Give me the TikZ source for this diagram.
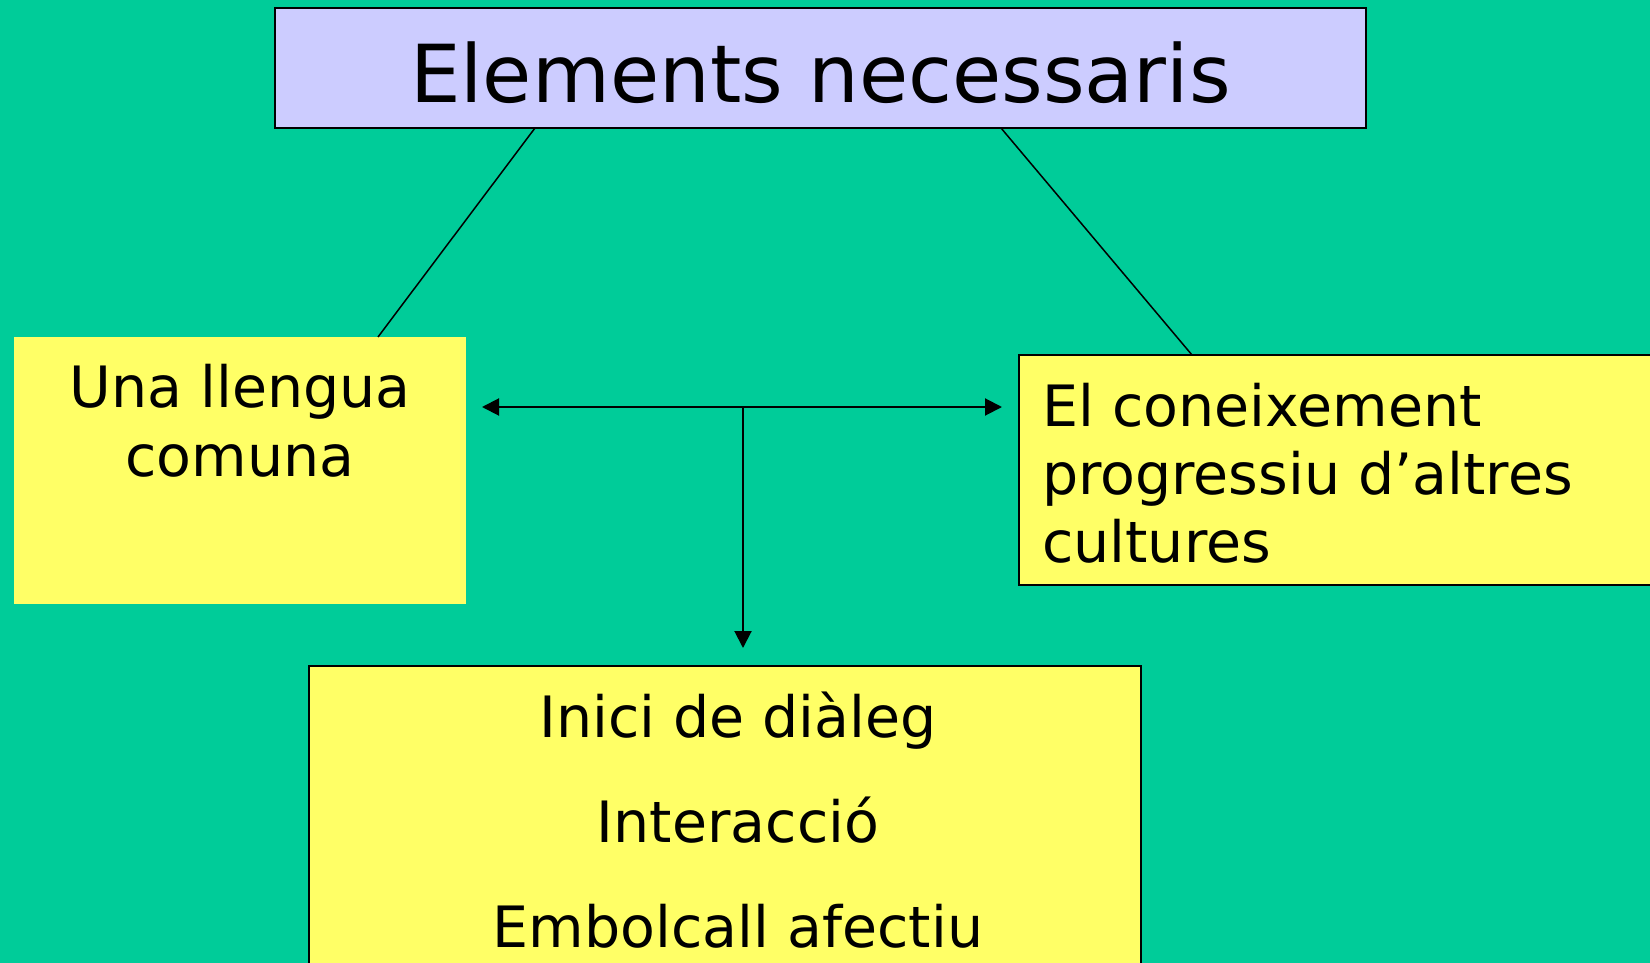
\documentclass[tikz,border=0pt]{standalone}
\usepackage{fontspec}
\setmainfont{DejaVu Sans}
\usetikzlibrary{arrows.meta}
\definecolor{bg}{HTML}{00CC99}
\definecolor{boxyellow}{HTML}{FFFF66}
\definecolor{lavender}{HTML}{CCCCFF}
\begin{document}
\begin{tikzpicture}[x=1pt,y=-1pt,
  box/.style={rectangle, anchor=north west, inner sep=0pt, outer sep=0pt},
  framed/.style={box, draw=black, line width=1.5pt},
  bodytext/.style={inner sep=0pt, text=black},
  thinline/.style={draw=black, line width=1.5pt},
  arr/.style={draw=black, line width=2pt, -{Triangle[length=17pt,width=17pt]}}]
\clip (0,0) rectangle (1650,963);
\fill[bg] (0,0) rectangle (1650,963);
% boxes
\node[framed, fill=lavender, minimum width=1091pt, minimum height=120pt,
      text height=95pt, text depth=25pt, font=\fontsize{80}{96}\selectfont] (title) at (275,8) {Elements necessaris};
\node[box, fill=boxyellow, minimum width=452pt, minimum height=267pt] (llengua) at (14,337) {};
\node[framed, fill=boxyellow, minimum width=650pt, minimum height=230pt] (coneix) at (1019,355) {};
\node[framed, fill=boxyellow, minimum width=832pt, minimum height=400pt] (dialeg) at (309,666) {};
% texts (base anchor = baseline of the last line)
\node[bodytext, anchor=base, align=center, font=\fontsize{57}{69}\selectfont] (llenguatext) at (240,476) {Una llengua\\comuna};
\node[bodytext, anchor=base west, align=left, font=\fontsize{57}{68}\selectfont] (coneixtext) at (1042,562) {El coneixement\\progressiu d’altres\\cultures};
\node[bodytext, anchor=base, align=center, font=\fontsize{57}{105}\selectfont] (dialegtext) at (738,947) {Inici de diàleg\\Interacció\\Embolcall afectiu};
% connectors
\draw[thinline] ([xshift=260pt]title.south west) -- ([xshift=364pt]llengua.north west);
\draw[thinline] ([xshift=726pt]title.south west) -- ([xshift=173pt]coneix.north west);
\coordinate (hub) at (743,407);
\draw[arr] (hub) -- ([xshift=16pt]hub -| llengua.east);
\draw[arr] (hub) -- ([xshift=-17pt]hub -| coneix.west);
\draw[arr] (hub) -- ([yshift=18pt]hub |- dialeg.north);
\end{tikzpicture}
\end{document}
